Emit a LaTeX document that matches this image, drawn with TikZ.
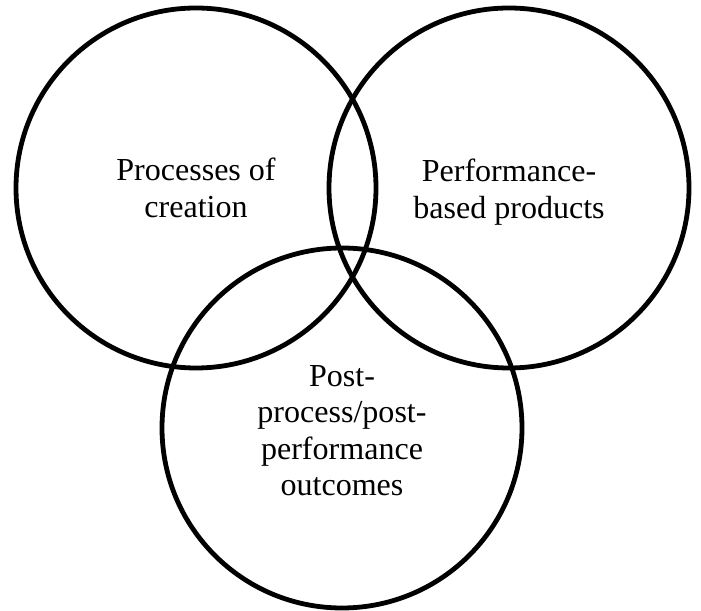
\documentclass[tikz,border=0pt]{standalone}
\usepackage{fontspec}
\setmainfont{Liberation Serif}
\usepackage{tikz}

\begin{document}
\begin{tikzpicture}
			\useasboundingbox (0,0) rectangle (17.525,15.275);
			\tikzset{set/.style={draw, circle, line width=1.2mm, minimum size=9cm},
				settext/.style={align=center, font=\fontsize{22.8}{26}\selectfont}}
			
			\node[set] (creation) at (4.9,10.575) {};
			\node[set] (products) at (12.725,10.575) {};
			\node[set] (outcomes) at (8.55,4.575) {};
			
			\node[settext] (creationtext) at (creation.center) {Processes of\\creation};
			\node[settext, yshift=-0.1cm] (productstext) at (products.center) {Performance-\\based products};
			\node[settext, yshift=-0.07cm] (outcomestext) at (outcomes.center) {Post-\\process/post-\\performance\\outcomes};
		\end{tikzpicture}
\end{document}
